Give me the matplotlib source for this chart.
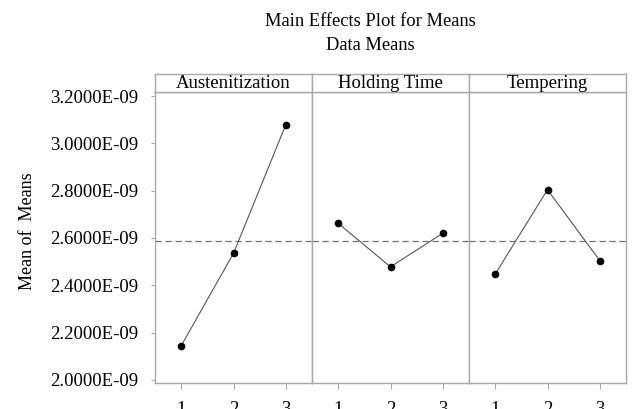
import matplotlib
matplotlib.use("Agg")
import matplotlib.pyplot as plt
from matplotlib.ticker import FormatStrFormatter

plt.rcParams['font.family'] = ['Liberation Serif', 'DejaVu Serif']

factors = ['Austenitization', 'Holding Time', 'Tempering']
levels = [1, 2, 3]
austenitization = [2.144e-9, 2.535e-9, 3.079e-9]
holding_time = [2.662e-9, 2.478e-9, 2.620e-9]
tempering = [2.447e-9, 2.804e-9, 2.504e-9]
grand_mean = 2.586e-9
yticks = [2.0e-9, 2.2e-9, 2.4e-9, 2.6e-9, 2.8e-9, 3.0e-9, 3.2e-9]

series = [austenitization, holding_time, tempering]

fig = plt.figure(figsize=(6.36, 4.09), dpi=100)
W, H = 636, 409
left, right = 155, 626
top_strip, top_data, bottom = 74, 92, 383
pw = (right - left) / 3
spine_col = '#a8a8a8'

axes = []
for i, (name, vals) in enumerate(zip(factors, series)):
    x0 = (left + i * pw) / W
    ax = fig.add_axes([x0, 1 - bottom / H, pw / W, (bottom - top_data) / H])
    ax.axhline(grand_mean, color='#707070', lw=0.9, ls=(0, (5, 3)), zorder=1)
    ax.plot(levels, vals, color='#555555', lw=0.8, zorder=2)
    ax.plot(levels, vals, 'o', color='black', ms=4.5, zorder=3)
    ax.set_xlim(0.5, 3.5)
    ax.set_ylim(1.987e-9, 3.217e-9)
    ax.set_xticks(levels)
    ax.set_xticklabels([str(l) for l in levels])
    for s in ax.spines.values():
        s.set_color(spine_col)
        s.set_linewidth(1.0)
    ax.tick_params(axis='x', direction='out', length=4, color=spine_col,
                   labelsize=13.5, pad=9)
    if i == 0:
        ax.set_yticks(yticks)
        ax.yaxis.set_major_formatter(FormatStrFormatter('%.4E'))
        ax.tick_params(axis='y', direction='out', length=3, color=spine_col,
                       labelsize=13.5, pad=9)
        ax.set_ylabel('Mean of  Means', fontsize=13)
        ax.yaxis.set_label_coords(-0.758, 0.522)
    else:
        ax.set_yticks([])
    # header strip
    hax = fig.add_axes([x0, 1 - top_data / H, pw / W, (top_data - top_strip) / H])
    hax.set_xticks([])
    hax.set_yticks([])
    for s in hax.spines.values():
        s.set_color(spine_col)
        s.set_linewidth(1.0)
    hax.text(0.5, 0.45, name, ha='center', va='center', fontsize=13.5,
             transform=hax.transAxes)
    axes.append(ax)

fig.text(370 / W, 1 - 21 / H, 'Main Effects Plot for Means', ha='center',
         va='center', fontsize=13.3)
fig.text(370 / W, 1 - 45 / H, 'Data Means', ha='center', va='center',
         fontsize=13.3)

fig.savefig('out.png', dpi=100)
